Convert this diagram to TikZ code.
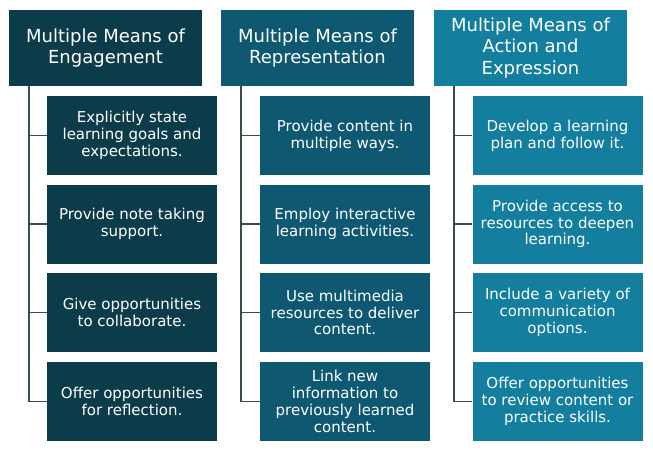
\documentclass[tikz,border=0pt]{standalone}
\usepackage{fontspec}
\setmainfont{DejaVu Sans}
\definecolor{cA}{HTML}{0C3B4A}
\definecolor{cB}{HTML}{0E5872}
\definecolor{cC}{HTML}{137E9E}
\definecolor{lineC}{HTML}{3C4A52}
\begin{document}
\begin{tikzpicture}[x=1pt,y=-1pt,
  head/.style={rectangle, minimum width=193pt, minimum height=76pt, inner sep=0pt, align=center,
    text=white, font=\fontsize{18}{21.5}\selectfont},
  item/.style={rectangle, minimum width=170pt, minimum height=79pt, inner sep=0pt, align=center,
    text=white, font=\fontsize{15}{16.8}\selectfont},
  link/.style={draw=lineC, line width=1.6pt}]
\useasboundingbox (0,0) rectangle (653,453);
% headers
\node[head, fill=cA] (h1) at (105.5,48) {Multiple Means of\\Engagement};
\node[head, fill=cB] (h2) at (317.5,48) {Multiple Means of\\Representation};
\node[head, fill=cC] (h3) at (530.5,48) {Multiple Means of\\Action and\\Expression};
% column 1
\node[item, fill=cA] (a1) at (132,135.5) {Explicitly state\\learning goals and\\expectations.};
\node[item, fill=cA] (a2) at (132,224) {Provide note taking\\support.};
\node[item, fill=cA] (a3) at (132,312.5) {Give opportunities\\to collaborate.};
\node[item, fill=cA] (a4) at (132,401.5) {Offer opportunities\\for reflection.};
% column 2
\node[item, fill=cB] (b1) at (345,135.5) {Provide content in\\multiple ways.};
\node[item, fill=cB] (b2) at (345,224) {Employ interactive\\learning activities.};
\node[item, fill=cB] (b3) at (345,312.5) {Use multimedia\\resources to deliver\\content.};
\node[item, fill=cB] (b4) at (345,401.5) {Link new\\information to\\previously learned\\content.};
% column 3
\node[item, fill=cC] (c1) at (557.5,135.5) {Develop a learning\\plan and follow it.};
\node[item, fill=cC] (c2) at (557.5,224) {Provide access to\\resources to deepen\\learning.};
\node[item, fill=cC] (c3) at (557.5,312.5) {Include a variety of\\communication\\options.};
\node[item, fill=cC] (c4) at (557.5,401.5) {Offer opportunities\\to review content or\\practice skills.};
% connectors
\foreach \h/\c in {h1/a,h2/b,h3/c}{
  \foreach \k in {1,2,3,4}{
    \draw[link] ([xshift=20pt]\h.south west) |- (\c\k.west);
  }
}
\end{tikzpicture}
\end{document}
